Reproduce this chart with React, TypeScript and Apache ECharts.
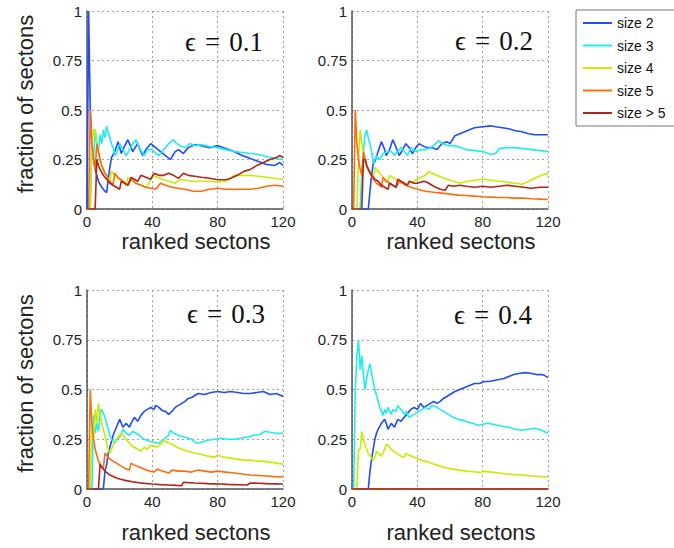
import React, { useEffect, useRef } from "react";
import * as echarts from "echarts";

// Legend entries, one per group size
const seriesNames = ["size 2", "size 3", "size 4", "size 5", "size > 5"];
const epsilonValues = ["0.1", "0.2", "0.3", "0.4"];
const xTicks = { min: 0, max: 120, step: 40 };
const yTicks = { min: 0, max: 1, step: 0.25 };

type Pt = [number, number];

// ---- epsilon = 0.1 ----
const e1Size2: Pt[] = [[0,0],[1,1],[2,0.5],[3,0.33],[4,0.25],[5,0.2],[6,0.17],[7,0.14],[8,0.125],[9,0.11],[10,0.1],[11,0.09],[12,0.083],[13,0.15],[14,0.21],[15,0.26],[17,0.29],[19,0.34],[21,0.28],[22,0.3],[25,0.35],[28,0.29],[31,0.33],[34,0.27],[36,0.3],[39,0.33],[42,0.31],[45,0.29],[48,0.27],[51,0.25],[54,0.29],[56,0.3],[59,0.28],[62,0.31],[66,0.325],[70,0.32],[75,0.31],[80,0.32],[85,0.305],[90,0.29],[95,0.27],[100,0.255],[105,0.24],[110,0.225],[115,0.22],[118,0.235],[120,0.22]];
const e1Size3: Pt[] = [[0,0],[1,0],[2,0],[3,0.33],[4,0.25],[5,0.4],[6,0.33],[7,0.29],[8,0.375],[9,0.33],[10,0.4],[11,0.36],[12,0.42],[13,0.385],[14,0.36],[15,0.33],[16,0.31],[17,0.27],[18,0.28],[20,0.33],[22,0.3],[24,0.27],[26,0.3],[28,0.33],[30,0.35],[32,0.31],[35,0.27],[37,0.3],[40,0.3],[42,0.28],[44,0.27],[47,0.3],[50,0.33],[53,0.35],[55,0.33],[57,0.32],[60,0.31],[63,0.33],[66,0.32],[70,0.325],[75,0.315],[80,0.31],[85,0.3],[90,0.29],[95,0.285],[100,0.28],[105,0.275],[110,0.265],[115,0.255],[120,0.25]];
const e1Size4: Pt[] = [[0,0],[1,0],[2,0],[3,0.33],[4,0.4],[5,0.4],[6,0.33],[7,0.29],[8,0.25],[9,0.22],[10,0.2],[11,0.18],[12,0.17],[13,0.15],[14,0.14],[15,0.19],[16,0.18],[18,0.16],[20,0.15],[22,0.14],[24,0.12],[25,0.16],[27,0.15],[30,0.13],[33,0.12],[36,0.11],[38,0.13],[40,0.17],[43,0.16],[46,0.15],[50,0.14],[54,0.13],[57,0.15],[60,0.145],[65,0.14],[70,0.14],[75,0.14],[80,0.135],[85,0.14],[88,0.155],[90,0.17],[95,0.17],[100,0.17],[105,0.165],[110,0.16],[115,0.155],[120,0.15]];
const e1Size5: Pt[] = [[0,0],[1,0],[2,0.5],[3,0.33],[4,0.25],[5,0.2],[6,0.33],[7,0.29],[8,0.25],[9,0.22],[10,0.2],[11,0.18],[12,0.17],[13,0.15],[14,0.14],[16,0.125],[17,0.18],[19,0.16],[22,0.14],[25,0.12],[27,0.15],[30,0.13],[33,0.12],[36,0.11],[39,0.105],[42,0.1],[45,0.13],[48,0.12],[52,0.11],[56,0.105],[60,0.1],[65,0.09],[70,0.09],[75,0.1],[80,0.105],[85,0.1],[90,0.1],[95,0.1],[100,0.1],[105,0.105],[110,0.115],[115,0.12],[120,0.115]];
const e1SizeMore: Pt[] = [[0,0],[5,0],[6,0.25],[7,0.22],[8,0.2],[10,0.17],[12,0.15],[14,0.13],[16,0.12],[18,0.11],[20,0.1],[21,0.14],[23,0.13],[25,0.12],[27,0.16],[29,0.15],[31,0.14],[33,0.17],[36,0.16],[39,0.15],[41,0.18],[44,0.17],[47,0.17],[50,0.18],[53,0.17],[56,0.155],[59,0.18],[62,0.17],[66,0.165],[70,0.16],[75,0.155],[80,0.148],[85,0.148],[88,0.155],[92,0.17],[96,0.19],[100,0.2],[104,0.22],[108,0.235],[112,0.25],[116,0.26],[118,0.27],[120,0.26]];

// ---- epsilon = 0.2 ----
const e2Size2: Pt[] = [[0,0],[10,0],[11,0.09],[12,0.17],[13,0.23],[14,0.24],[16,0.29],[18,0.34],[20,0.3],[21,0.27],[23,0.3],[25,0.35],[27,0.31],[29,0.27],[31,0.3],[33,0.33],[35,0.31],[37,0.28],[39,0.31],[41,0.33],[43,0.32],[46,0.31],[49,0.31],[52,0.3],[55,0.33],[58,0.34],[60,0.33],[63,0.37],[66,0.38],[69,0.39],[72,0.4],[75,0.41],[80,0.415],[85,0.42],[88,0.415],[92,0.41],[96,0.405],[100,0.395],[104,0.39],[108,0.38],[112,0.375],[116,0.375],[120,0.375]];
const e2Size3: Pt[] = [[0,0],[5,0],[6,0.17],[7,0.29],[8,0.375],[9,0.4],[10,0.36],[11,0.33],[12,0.29],[13,0.23],[14,0.25],[15,0.27],[17,0.25],[19,0.28],[22,0.29],[24,0.29],[26,0.27],[28,0.29],[30,0.31],[32,0.29],[34,0.27],[36,0.31],[39,0.29],[42,0.3],[45,0.3],[48,0.31],[50,0.32],[53,0.345],[56,0.33],[59,0.32],[62,0.32],[65,0.315],[70,0.3],[75,0.295],[80,0.29],[85,0.275],[88,0.28],[90,0.305],[95,0.31],[100,0.31],[105,0.305],[110,0.3],[115,0.295],[120,0.29]];
const e2Size4: Pt[] = [[0,0],[3,0],[4,0.25],[5,0.4],[6,0.33],[7,0.29],[8,0.25],[9,0.22],[10,0.2],[11,0.18],[12,0.17],[13,0.15],[14,0.21],[15,0.2],[16,0.19],[18,0.17],[20,0.15],[22,0.14],[23,0.17],[25,0.16],[27,0.15],[29,0.14],[31,0.13],[33,0.12],[35,0.14],[37,0.135],[40,0.15],[42,0.16],[45,0.17],[47,0.19],[49,0.18],[52,0.17],[55,0.16],[58,0.15],[62,0.14],[66,0.13],[70,0.14],[75,0.145],[80,0.15],[85,0.145],[90,0.14],[95,0.135],[100,0.13],[104,0.125],[108,0.14],[112,0.155],[116,0.17],[120,0.18]];
const e2Size5: Pt[] = [[0,0],[1,0],[2,0.5],[3,0.33],[4,0.25],[5,0.2],[6,0.17],[7,0.29],[8,0.25],[9,0.22],[10,0.2],[11,0.18],[12,0.17],[13,0.15],[14,0.14],[15,0.13],[16,0.125],[17,0.12],[18,0.11],[19,0.16],[21,0.14],[23,0.13],[25,0.12],[27,0.11],[29,0.14],[31,0.13],[33,0.12],[36,0.11],[40,0.1],[45,0.09],[50,0.085],[55,0.08],[60,0.075],[65,0.07],[70,0.068],[75,0.065],[80,0.062],[85,0.06],[90,0.058],[95,0.058],[100,0.055],[105,0.055],[110,0.052],[115,0.05],[120,0.048]];
const e2SizeMore: Pt[] = [[0,0],[6,0],[7,0.25],[8,0.25],[9,0.22],[10,0.2],[12,0.17],[14,0.15],[16,0.14],[18,0.12],[20,0.11],[22,0.1],[23,0.13],[25,0.12],[27,0.11],[28,0.15],[30,0.14],[32,0.13],[34,0.12],[35,0.14],[38,0.13],[40,0.13],[44,0.14],[46,0.135],[50,0.115],[54,0.1],[57,0.095],[59,0.12],[62,0.115],[66,0.12],[70,0.115],[75,0.11],[80,0.115],[85,0.11],[90,0.115],[95,0.12],[100,0.115],[105,0.11],[110,0.105],[115,0.11],[120,0.11]];

// ---- epsilon = 0.3 ----
const e3Size2: Pt[] = [[0,0],[10,0],[11,0.09],[12,0.12],[13,0.18],[14,0.21],[15,0.24],[16,0.27],[17,0.29],[18,0.31],[20,0.35],[22,0.31],[24,0.33],[26,0.31],[27,0.33],[29,0.36],[31,0.34],[33,0.37],[35,0.39],[37,0.4],[39,0.41],[41,0.4],[42,0.42],[44,0.41],[46,0.395],[48,0.39],[50,0.375],[52,0.39],[54,0.41],[56,0.42],[58,0.43],[60,0.44],[62,0.455],[64,0.46],[66,0.47],[68,0.48],[72,0.475],[76,0.485],[80,0.49],[84,0.485],[88,0.49],[92,0.485],[96,0.48],[100,0.48],[104,0.485],[108,0.49],[112,0.475],[116,0.48],[120,0.465]];
const e3Size3: Pt[] = [[0,0],[3,0],[4,0.37],[5,0.28],[6,0.33],[7,0.29],[8,0.38],[9,0.4],[10,0.38],[11,0.36],[12,0.33],[13,0.3],[14,0.27],[15,0.25],[16,0.24],[17,0.23],[18,0.25],[20,0.26],[22,0.3],[24,0.28],[26,0.27],[28,0.29],[30,0.28],[32,0.27],[35,0.25],[38,0.24],[41,0.235],[44,0.23],[47,0.25],[50,0.27],[51,0.295],[53,0.28],[56,0.27],[60,0.26],[64,0.25],[67,0.23],[70,0.235],[74,0.245],[78,0.25],[82,0.255],[86,0.25],[90,0.25],[94,0.255],[98,0.26],[102,0.27],[106,0.275],[109,0.29],[112,0.285],[116,0.28],[120,0.28]];
const e3Size4: Pt[] = [[0,0],[2,0],[3,0.33],[4,0.25],[5,0.4],[6,0.33],[7,0.43],[8,0.38],[9,0.33],[10,0.3],[11,0.27],[12,0.23],[13,0.2],[14,0.18],[15,0.2],[17,0.24],[19,0.26],[21,0.28],[23,0.26],[25,0.24],[27,0.22],[29,0.21],[31,0.2],[33,0.19],[35,0.21],[37,0.2],[39,0.22],[41,0.215],[43,0.21],[45,0.225],[47,0.245],[49,0.235],[52,0.225],[55,0.21],[58,0.2],[62,0.19],[66,0.18],[70,0.175],[74,0.165],[78,0.16],[80,0.17],[84,0.16],[88,0.155],[92,0.15],[96,0.145],[100,0.145],[104,0.14],[108,0.14],[112,0.135],[116,0.13],[120,0.125]];
const e3Size5: Pt[] = [[0,0],[1,0],[2,0.5],[3,0.33],[4,0.25],[5,0.2],[6,0.17],[7,0.14],[8,0.125],[9,0.11],[10,0.1],[11,0.18],[12,0.17],[14,0.15],[16,0.14],[18,0.13],[20,0.12],[22,0.11],[24,0.1],[26,0.095],[27,0.13],[29,0.12],[32,0.11],[35,0.1],[38,0.09],[41,0.085],[43,0.1],[46,0.09],[50,0.08],[52,0.095],[56,0.09],[60,0.09],[64,0.085],[68,0.095],[72,0.09],[76,0.085],[80,0.09],[85,0.085],[90,0.08],[95,0.075],[100,0.07],[105,0.068],[110,0.065],[115,0.062],[120,0.06]];
const e3SizeMore: Pt[] = [[0,0],[7,0],[8,0.125],[9,0.11],[10,0.1],[12,0.083],[14,0.07],[16,0.063],[18,0.055],[20,0.05],[24,0.042],[28,0.036],[32,0.031],[36,0.028],[40,0.025],[45,0.022],[50,0.02],[55,0.018],[58,0.017],[59,0.034],[62,0.032],[66,0.03],[70,0.029],[74,0.027],[78,0.026],[82,0.025],[86,0.023],[90,0.022],[94,0.021],[98,0.02],[100,0.03],[105,0.029],[110,0.027],[115,0.026],[120,0.025]];

// ---- epsilon = 0.4 ----
const e4Size2: Pt[] = [[0,0],[10,0],[11,0.09],[12,0.15],[13,0.2],[14,0.25],[15,0.28],[16,0.3],[18,0.33],[20,0.35],[21,0.33],[22,0.3],[24,0.33],[26,0.31],[28,0.35],[30,0.34],[32,0.36],[34,0.38],[36,0.4],[38,0.41],[40,0.4],[42,0.43],[44,0.41],[46,0.42],[48,0.43],[50,0.44],[52,0.43],[54,0.44],[56,0.455],[58,0.465],[60,0.475],[63,0.49],[66,0.5],[69,0.51],[72,0.52],[75,0.53],[78,0.53],[81,0.54],[84,0.54],[87,0.545],[90,0.55],[93,0.555],[96,0.565],[99,0.575],[102,0.58],[106,0.585],[110,0.58],[113,0.575],[116,0.575],[118,0.57],[120,0.56]];
const e4Size3: Pt[] = [[0,0],[1,0],[2,0.5],[3,0.67],[4,0.75],[5,0.6],[6,0.67],[7,0.57],[8,0.5],[9,0.56],[10,0.6],[11,0.63],[12,0.58],[13,0.54],[14,0.5],[15,0.47],[16,0.44],[17,0.41],[18,0.39],[19,0.37],[20,0.4],[21,0.38],[22,0.41],[24,0.375],[25,0.4],[27,0.39],[28,0.42],[30,0.4],[32,0.375],[33,0.39],[35,0.36],[37,0.37],[39,0.38],[41,0.39],[43,0.4],[45,0.41],[47,0.4],[49,0.42],[51,0.415],[53,0.405],[56,0.39],[59,0.375],[62,0.36],[65,0.35],[68,0.345],[71,0.335],[74,0.33],[77,0.32],[80,0.325],[83,0.33],[86,0.325],[89,0.32],[92,0.315],[96,0.31],[100,0.3],[104,0.295],[108,0.3],[112,0.305],[116,0.295],[120,0.28]];
const e4Size4: Pt[] = [[0,0],[3,0],[4,0.2],[5,0.2],[6,0.29],[7,0.25],[8,0.22],[9,0.2],[10,0.18],[11,0.17],[12,0.155],[13,0.145],[14,0.16],[15,0.19],[16,0.18],[18,0.165],[20,0.2],[21,0.225],[22,0.22],[24,0.2],[26,0.185],[28,0.175],[30,0.165],[32,0.16],[33,0.18],[35,0.17],[38,0.16],[41,0.15],[44,0.14],[47,0.135],[50,0.125],[54,0.115],[58,0.105],[62,0.1],[66,0.095],[70,0.09],[75,0.087],[79,0.083],[80,0.09],[85,0.085],[90,0.08],[95,0.075],[100,0.072],[105,0.07],[110,0.066],[115,0.063],[120,0.06]];
const e4Size5: Pt[] = [[0,0],[120,0]];
const e4SizeMore: Pt[] = [[0,0],[120,0]];

const panelData: Pt[][][] = [
  [e1Size2, e1Size3, e1Size4, e1Size5, e1SizeMore],
  [e2Size2, e2Size3, e2Size4, e2Size5, e2SizeMore],
  [e3Size2, e3Size3, e3Size4, e3Size5, e3SizeMore],
  [e4Size2, e4Size3, e4Size4, e4Size5, e4SizeMore],
];

const lineColors = ["#1f4cff", "#1eeef0", "#c4ef00", "#ff6c0a", "#b3231a"];

// plot-area boxes for the 2x2 layout
const boxes = [
  { left: 87, top: 11, width: 196, height: 198 },
  { left: 352, top: 11, width: 196, height: 198 },
  { left: 87, top: 290, width: 196, height: 199 },
  { left: 352, top: 290, width: 196, height: 199 },
];
const epsLabelPos = [
  { x: 263, y: 42 },
  { x: 533, y: 41 },
  { x: 265, y: 314 },
  { x: 532, y: 315 },
];

const sans = "'Liberation Sans', Arial, Helvetica, sans-serif";
const serif = "'Liberation Serif', 'DejaVu Serif', 'Times New Roman', serif";

export default function App() {
  const ref = useRef<HTMLDivElement>(null);

  useEffect(() => {
    if (!ref.current) return;
    const chart = echarts.init(ref.current, undefined, { renderer: "svg" });

    const gridLine = { show: true, lineStyle: { type: [2, 3], color: "#a0a0a0", width: 1 } };
    const axisLine = { show: true, onZero: false, lineStyle: { color: "#555", width: 1.5 } };
    const axisLabel = { fontSize: 15, color: "#222", fontFamily: sans, margin: 5 };

    const grid = boxes.map((b) => ({ ...b, outerBoundsMode: "none" }));

    const xAxis = boxes.map((_, i) => ({
      type: "value",
      gridIndex: i,
      min: xTicks.min,
      max: xTicks.max,
      interval: xTicks.step,
      axisLine,
      axisTick: { show: false },
      axisLabel,
      splitLine: gridLine,
      name: "ranked sectons",
      nameLocation: "middle",
      nameGap: i < 2 ? 21 : 32,
      nameTextStyle: {
        fontSize: 22,
        color: "#222",
        fontFamily: sans,
        padding: [0, 0, 0, 22],
      },
    }));

    const yAxis = boxes.map((_, i) => ({
      type: "value",
      gridIndex: i,
      min: yTicks.min,
      max: yTicks.max,
      interval: yTicks.step,
      axisLine,
      axisTick: { show: false },
      axisLabel,
      splitLine: gridLine,
      name: i % 2 === 0 ? "fraction of sectons" : "",
      nameLocation: "middle",
      nameGap: 51,
      nameTextStyle: {
        fontSize: 22,
        color: "#222",
        fontFamily: sans,
        padding: [0, 0, 0, 12],
      },
    }));

    const series: any[] = [];
    panelData.forEach((panel, p) => {
      panel.forEach((pts, s) => {
        series.push({
          type: "line",
          name: seriesNames[s],
          xAxisIndex: p,
          yAxisIndex: p,
          data: pts,
          symbol: "none",
          showSymbol: false,
          lineStyle: { width: 1.6, color: lineColors[s] },
          itemStyle: { color: lineColors[s] },
          z: 2 + s,
        });
      });
    });

    // epsilon annotation in each panel, with math-style spacing around "="
    const graphic = epsilonValues.map((v, i) => ({
      type: "text",
      x: epsLabelPos[i].x,
      y: epsLabelPos[i].y,
      z: 100,
      style: {
        text: "\u03F5\u2004=\u2004" + v,
        fontSize: 27,
        fontFamily: serif,
        fill: "#111",
        align: "right",
        verticalAlign: "middle",
      },
    }));

    chart.setOption({
      animation: false,
      backgroundColor: "#fff",
      grid,
      xAxis,
      yAxis,
      series,
      graphic,
      legend: {
        data: seriesNames,
        orient: "vertical",
        left: 576,
        top: 10,
        padding: [6, 11, 6, 6],
        itemGap: 8.5,
        itemWidth: 29,
        itemHeight: 14,
        itemStyle: { opacity: 0 },
        borderColor: "#777",
        borderWidth: 1,
        borderRadius: 0,
        backgroundColor: "#fff",
        textStyle: { fontSize: 14, color: "#111", fontFamily: sans },
      },
    });

    return () => chart.dispose();
  }, []);

  return (
    <div
      ref={ref}
      style={{ position: "fixed", left: 0, top: 0, width: 674, height: 548, background: "#fff" }}
    />
  );
}
